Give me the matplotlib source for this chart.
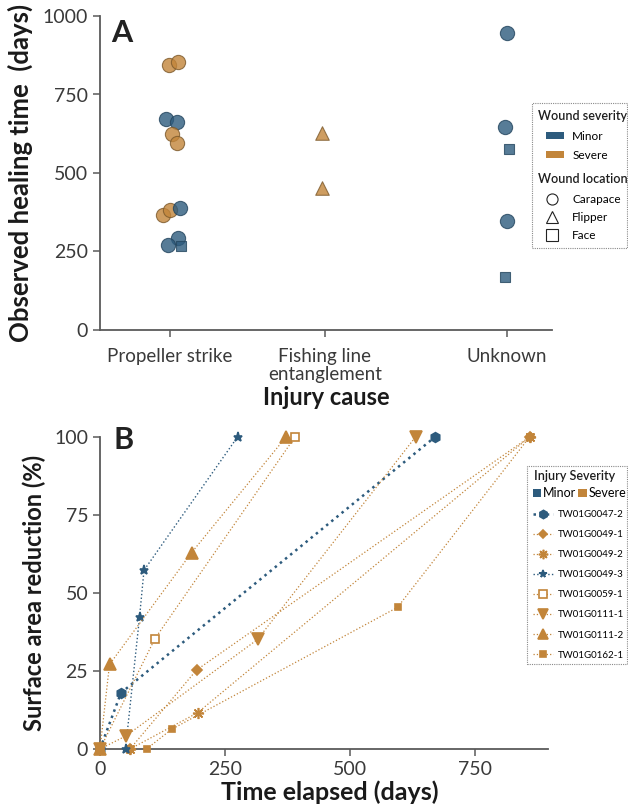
import matplotlib
matplotlib.use("Agg")
import matplotlib.pyplot as plt
from matplotlib.lines import Line2D
from matplotlib.patches import Patch, Rectangle

plt.rcParams['font.family'] = ['Lato', 'DejaVu Sans']

# ---------------- Panel A data ----------------
causes = ["Propeller strike", "Fishing line\nentanglement", "Unknown"]
point_cause = [0] * 12 + [1] * 2 + [2] * 5
healing_days = [844, 852, 671, 663, 623, 595, 366, 382, 388, 294, 271, 268,
                626, 451,
                945, 646, 576, 347, 170]
severity = ["Severe", "Severe", "Minor", "Minor", "Severe", "Severe", "Severe",
            "Severe", "Minor", "Minor", "Minor", "Minor",
            "Severe", "Severe",
            "Minor", "Minor", "Minor", "Minor", "Minor"]
location = ["Carapace"] * 11 + ["Face"] + ["Flipper"] * 2 + \
           ["Carapace", "Carapace", "Face", "Carapace", "Face"]
jitter = [-0.005, 0.054, -0.026, 0.043, 0.015, 0.047, -0.043, 0.0, 0.065,
          0.05, -0.011, 0.071, -0.021, -0.021, 0.002, -0.013, 0.011, 0.002,
          -0.013]
a_yticks = [0, 250, 500, 750, 1000]

# ---------------- Panel B data ----------------
series_ids = ["TW01G0047-2", "TW01G0049-1", "TW01G0049-2", "TW01G0049-3",
              "TW01G0059-1", "TW01G0111-1", "TW01G0111-2", "TW01G0162-1"]
series_severity = ["Minor", "Severe", "Severe", "Minor", "Severe", "Severe",
                   "Severe", "Severe"]
series_days = [[0, 42, 670],
               [60, 193, 859],
               [60, 195, 859],
               [51, 79, 88, 275],
               [0, 110, 390],
               [0, 52, 315, 631],
               [0, 19, 183, 372],
               [93, 143, 595, 859]]
series_pct = [[0, 18.0, 100],
              [0, 25.3, 100],
              [0, 11.6, 100],
              [0, 42.2, 57.3, 100],
              [0, 35.4, 100],
              [0, 4.2, 35.1, 100],
              [0, 27.1, 62.9, 100],
              [0, 6.3, 45.4, 100]]
b_xticks = [0, 250, 500, 750]
b_yticks = [0, 25, 50, 75, 100]

# ---------------- styles ----------------
sev_color = {"Minor": "#2d5b7d", "Severe": "#c2853a"}
sev_edge = {"Minor": "#24465f", "Severe": "#7d5a2c"}
loc_marker = {"Carapace": "o", "Flipper": "^", "Face": "s"}
loc_size = {"Carapace": 105, "Flipper": 95, "Face": 62}
cause_pos = [0.0, 1.0, 2.174]
series_marker = ["h", "D", (8, 2, 0), "*", "s", "v", "^", "s"]
series_ms = [7, 5, 8, 6.5, 6, 8, 8, 5]
series_mfc_open = [False, False, False, False, True, False, False, False]
series_lw = [1.8, 0.9, 0.9, 1.0, 0.9, 0.9, 0.9, 0.9]

W, H = 628, 808
fig = plt.figure(figsize=(W / 100, H / 100), dpi=100)
fig.patch.set_facecolor("white")


def fx(px):
    return px / W


def fy(py):
    return 1 - py / H


spine_c = "#5a5a5a"
tick_c = "#3a3a3a"
title_c = "#1e1e1e"


def style_axes(ax):
    for s in ["top", "right"]:
        ax.spines[s].set_visible(False)
    for s in ["left", "bottom"]:
        ax.spines[s].set_color(spine_c)
        ax.spines[s].set_linewidth(1.3)
    ax.tick_params(axis="both", colors=spine_c, labelcolor=tick_c,
                   labelsize=14, length=5, width=1.1, direction="out")


def frame(x0, y0, x1, y1):
    fig.add_artist(Rectangle((fx(x0), fy(y1)), fx(x1) - fx(x0),
                             fy(y0) - fy(y1), transform=fig.transFigure,
                             fill=False, edgecolor="#8a8a8a", linewidth=0.8,
                             linestyle=(0, (1, 1))))


def legend_title(x, y, s):
    fig.text(fx(x), fy(y), s, fontsize=9, fontweight="semibold",
             color=title_c, ha="left", va="center")


# ---------------- Panel A ----------------
axA = fig.add_axes([fx(100), fy(330), fx(552) - fx(100), fy(16) - fy(330)])
style_axes(axA)
for i in range(len(healing_days)):
    sev = severity[i]
    loc = location[i]
    axA.scatter(cause_pos[point_cause[i]] + jitter[i], healing_days[i],
                s=loc_size[loc], marker=loc_marker[loc], c=sev_color[sev],
                alpha=0.8, edgecolors=sev_edge[sev], linewidths=0.8,
                zorder=3, clip_on=False)
axA.set_ylim(0, 1000)
axA.set_xlim(-0.452, 2.465)
axA.set_yticks(a_yticks)
axA.set_xticks(cause_pos)
axA.set_xticklabels(causes, linespacing=1.05, fontsize=13.5)
axA.tick_params(axis="x", pad=8)
axA.set_ylabel("Observed healing time  (days)", fontsize=18.5,
               fontweight="bold", color="#1a1a1a", labelpad=7)
axA.set_xlabel("Injury cause", fontsize=17, fontweight="bold",
               color="#1a1a1a", labelpad=2)
axA.text(0.025, 0.99, "A", transform=axA.transAxes, fontsize=22,
         fontweight="bold", color="#222222", va="top", ha="left")

# Legend A
frame(532, 103, 627, 248)
legend_title(538, 116, "Wound severity")
legend_title(538, 179, "Wound location")
sev_handles = [Patch(facecolor=sev_color["Minor"], edgecolor="none"),
               Patch(facecolor=sev_color["Severe"], edgecolor="none")]
fig.legend(sev_handles, ["Minor", "Severe"], loc="upper left",
           bbox_to_anchor=(fx(545.5), fy(131)),
           bbox_transform=fig.transFigure, frameon=False, fontsize=8.5,
           handlelength=1.58, handleheight=0.5, handletextpad=0.68,
           labelspacing=0.68, borderpad=0, borderaxespad=0)
loc_handles = [Line2D([], [], marker=m, linestyle="none", markersize=8,
                      markerfacecolor="white", markeredgecolor="#222222",
                      markeredgewidth=0.8) for m in ["o", "^", "s"]]
fig.legend(loc_handles, ["Carapace", "Flipper", "Face"], loc="upper left",
           bbox_to_anchor=(fx(545), fy(194)),
           bbox_transform=fig.transFigure, frameon=False, fontsize=8.5,
           handlelength=1.2, handletextpad=1.1, labelspacing=0.58,
           borderpad=0, borderaxespad=0)

# ---------------- Panel B ----------------
axB = fig.add_axes([fx(100), fy(749), fx(548) - fx(100), fy(437) - fy(749)])
style_axes(axB)
series_handles = []
for i, sid in enumerate(series_ids):
    col = sev_color[series_severity[i]]
    mfc = "white" if series_mfc_open[i] else col
    ln, = axB.plot(series_days[i], series_pct[i], linestyle=":",
                   linewidth=series_lw[i], color=col,
                   marker=series_marker[i], markersize=series_ms[i],
                   markerfacecolor=mfc, markeredgecolor=col,
                   markeredgewidth=1.2, clip_on=False, zorder=3)
    series_handles.append(ln)
axB.set_xlim(0, 896)
axB.set_ylim(0, 100)
axB.set_xticks(b_xticks)
axB.set_yticks(b_yticks)
axB.set_ylabel("Surface area reduction (%)", fontsize=17, fontweight="bold",
               color="#1a1a1a", labelpad=6)
axB.set_xlabel("Time elapsed (days)", fontsize=18, fontweight="bold",
               color="#1a1a1a")
axB.xaxis.set_label_coords((330 - 100) / 448, -(792 - 749) / 312)
axB.xaxis.label.set_va("center")
axB.text(0.03, 1.035, "B", transform=axB.transAxes, fontsize=22,
         fontweight="bold", color="#222222", va="top", ha="left")

# Legend B
frame(527, 466, 627, 664)
legend_title(534, 476, "Injury Severity")
fig.legend(sev_handles, ["Minor", "Severe"], loc="upper left", ncol=2,
           bbox_to_anchor=(fx(532.5), fy(487)),
           bbox_transform=fig.transFigure, frameon=False, fontsize=9,
           handlelength=0.7, handleheight=0.62, handletextpad=0.15,
           columnspacing=0.12, borderpad=0, borderaxespad=0)
fig.legend(series_handles, series_ids, loc="upper left",
           bbox_to_anchor=(fx(532.5), fy(510)),
           bbox_transform=fig.transFigure, frameon=False, fontsize=7,
           handlelength=2.12, handletextpad=0.45, labelspacing=1.14,
           borderpad=0, borderaxespad=0, markerscale=0.85)

fig.savefig("out.png", dpi=100, facecolor="white")
